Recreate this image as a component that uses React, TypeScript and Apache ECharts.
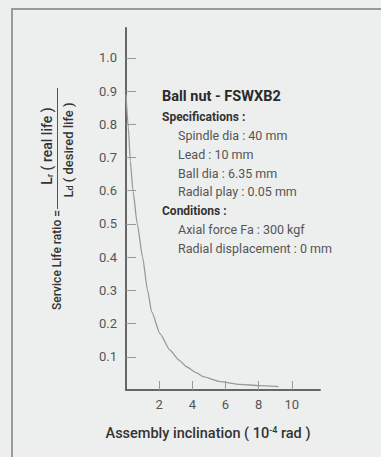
import React, { useEffect, useRef } from "react";
import * as echarts from "echarts";

const inclination = [0, 0.14, 0.26, 0.42, 0.68, 1.0, 1.3, 1.55, 2.05, 2.65, 3.2, 3.65, 4.2, 4.66, 5.66, 6.87, 8.07, 9.2];
const lifeRatio = [0.89, 0.79, 0.69, 0.6, 0.5, 0.4, 0.3, 0.235, 0.17, 0.12, 0.09, 0.07, 0.053, 0.04, 0.025, 0.017, 0.013, 0.01];
const xTicks = [2, 4, 6, 8, 10];
const yTicks = [0.1, 0.2, 0.3, 0.4, 0.5, 0.6, 0.7, 0.8, 0.9, 1.0];
const title = "Ball nut - FSWXB2";
const specHeader = "Specifications :";
const specItems = ["Spindle dia : 40 mm", "Lead : 10 mm", "Ball dia : 6.35 mm", "Radial play : 0.05 mm"];
const condHeader = "Conditions :";
const condItems = ["Axial force Fa : 300 kgf", "Radial displacement : 0 mm"];

const FONT = "Roboto, 'Open Sans', sans-serif";

export default function App() {
  const ref = useRef<HTMLDivElement>(null);
  useEffect(() => {
    document.body.style.margin = "0";
    const chart = echarts.init(ref.current!, null, { renderer: "svg" });
    const data = inclination.map((x, i) => [x, lifeRatio[i]]);
    const texts: any[] = [];
    const lineH = 18.8;
    let y = 96.7;
    texts.push({ type: "text", x: 162, y, style: { text: title, font: `bold 14.5px ${FONT}`, fill: "#2a2a2a", verticalAlign: "middle" } });
    y = 116.7;
    texts.push({ type: "text", x: 162, y, style: { text: specHeader, font: `bold 12px ${FONT}`, fill: "#333", verticalAlign: "middle" } });
    specItems.forEach((t) => {
      y += lineH;
      texts.push({ type: "text", x: 178, y, style: { text: t, font: `12.5px ${FONT}`, fill: "#555", verticalAlign: "middle" } });
    });
    y += lineH;
    texts.push({ type: "text", x: 162, y, style: { text: condHeader, font: `bold 12px ${FONT}`, fill: "#333", verticalAlign: "middle" } });
    condItems.forEach((t) => {
      y += lineH;
      texts.push({ type: "text", x: 178, y, style: { text: t, font: `12.5px ${FONT}`, fill: "#555", verticalAlign: "middle" } });
    });

    chart.setOption({
      animation: false,
      backgroundColor: "#edefee",
      grid: { left: 126, top: 28, right: 61, bottom: 67 },
      xAxis: {
        type: "value",
        min: 0,
        max: 11.7,
        axisLine: { lineStyle: { color: "#666", width: 2 } },
        axisTick: { inside: true, length: 9, lineStyle: { color: "#999" }, customValues: xTicks },
        axisLabel: { customValues: xTicks, color: "#555", fontSize: 13, fontFamily: FONT, margin: 8 },
        splitLine: { show: false },
      },
      yAxis: {
        type: "value",
        min: 0,
        max: 1.09,
        axisLine: { show: true, lineStyle: { color: "#666", width: 2 } },
        axisTick: { show: true, inside: true, length: 10, lineStyle: { color: "#999" }, customValues: yTicks },
        axisLabel: { customValues: yTicks, color: "#555", fontSize: 13, fontFamily: FONT, margin: 9, formatter: (v: number) => v.toFixed(1) },
        splitLine: { show: false },
      },
      series: [
        {
          type: "line",
          data,
          smooth: 0.2,
          smoothMonotone: "x",
          symbol: "none",
          lineStyle: { color: "#999", width: 1.3 },
        },
      ],
      graphic: [
        { type: "rect", shape: { x: 12, y: 9, width: 420, height: 500 }, style: { fill: "none", stroke: "#9a9a9a", lineWidth: 2 } },
        ...texts,
        {
          type: "text", x: 57, y: 260, rotation: Math.PI / 2,
          style: { text: "Service Life ratio =", font: `500 12px ${FONT}`, fill: "#333", align: "center", verticalAlign: "middle" },
        },
        { type: "line", shape: { x1: 57.5, y1: 88, x2: 57.5, y2: 209 }, style: { stroke: "#555", lineWidth: 1 } },
        {
          type: "text", x: 47, y: 146, rotation: Math.PI / 2,
          style: {
            text: "{m|L}{s|r}{m| ( real life )}", align: "center", verticalAlign: "middle",
            rich: {
              m: { font: `500 14px ${FONT}`, fill: "#333" },
              s: { font: `500 9px ${FONT}`, fill: "#333", verticalAlign: "bottom" },
            },
          },
        },
        {
          type: "text", x: 68, y: 150, rotation: Math.PI / 2,
          style: {
            text: "{m|L}{s|d}{m| ( desired life )}", align: "center", verticalAlign: "middle",
            rich: {
              m: { font: `500 13px ${FONT}`, fill: "#333" },
              s: { font: `500 9px ${FONT}`, fill: "#333", verticalAlign: "bottom" },
            },
          },
        },
        {
          type: "text", x: 208, y: 433,
          style: {
            text: "{m|Assembly inclination ( 10}{s|-4}{m| rad )}", align: "center", verticalAlign: "middle",
            rich: {
              m: { font: `500 14.5px ${FONT}`, fill: "#333" },
              s: { font: `500 9px ${FONT}`, fill: "#333", verticalAlign: "top" },
            },
          },
        },
      ],
    });
    return () => chart.dispose();
  }, []);
  return <div ref={ref} style={{ position: "absolute", left: 0, top: 0, width: 381, height: 457 }} />;
}
